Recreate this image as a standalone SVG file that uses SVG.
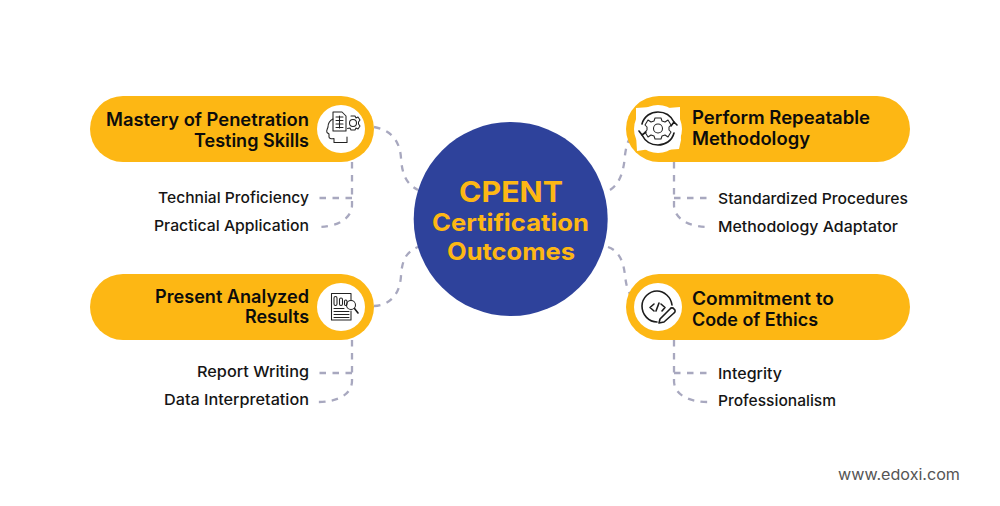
<svg xmlns="http://www.w3.org/2000/svg" width="1000" height="506" viewBox="0 0 1000 506">
<style>
.pill{fill:#fdb714}
.hole{fill:#fff}
.t{font-family:Inter,"Liberation Sans",sans-serif;font-size:18px;font-weight:600;fill:#0c0c0c}
.s{font-family:Inter,"Liberation Sans",sans-serif;font-size:15px;font-weight:450;fill:#151515}
.c{font-family:Inter,"Liberation Sans",sans-serif;font-weight:700;fill:#fdb714;text-anchor:middle}
.i{fill:none;stroke:#222;stroke-width:1.05;stroke-linecap:round;stroke-linejoin:round}
.i2{fill:none;stroke:#1c1c1c;stroke-width:1.6;stroke-linecap:round;stroke-linejoin:round}
.d{fill:none;stroke:#a8a8bf;stroke-width:2.3;stroke-dasharray:6.500 6.500}
</style>
<rect width="1000" height="506" fill="#fff"/>
<g id="connectors">
<path class="d" d="M374 127C392 130 400 142 401 158C402 174 406 184 418 190"/>
<path class="d" d="M374 306C392 305 400 292 401 276C402 260 406 252 418 247"/>
<path class="d" d="M610 190C620 184 624 170 625 155C626 148 627 143 630 138"/>
<path class="d" d="M608 247C620 251 624 264 625 276C626 283 627 289 630 294"/>
<path class="d" d="M352 162V205C352 218 338 227 318 227"/>
<path class="d" d="M352 198H318"/>
<path class="d" d="M352 340V381C352 394 338 402 318 402"/>
<path class="d" d="M352 373H318"/>
<path class="d" d="M674 162V205C674 218 688 227 708 227"/>
<path class="d" d="M674 198H708"/>
<path class="d" d="M674 340V381C674 394 688 402 708 402"/>
<path class="d" d="M674 373H708"/>
</g>
<g id="center">
<circle cx="510.700" cy="219" r="97" fill="#2e429b"/>
<text class="c" x="511" y="202" font-size="29" textLength="104" lengthAdjust="spacingAndGlyphs">CPENT</text>
<text class="c" x="510.500" y="231" font-size="24" textLength="157" lengthAdjust="spacingAndGlyphs">Certification</text>
<text class="c" x="511" y="260" font-size="24" textLength="128" lengthAdjust="spacingAndGlyphs">Outcomes</text>
</g>
<g id="node-mastery">
<rect class="pill" x="90" y="96" width="284" height="66" rx="33"/>
<circle class="hole" cx="341" cy="129" r="24"/>
<path class="i" d="M333 119C329 121 328 124 328 127C327 130 326 131 327 132.500L329 134V137C329 138.500 331 139 334 138.500V142.500H347V137"/>
<path class="i" d="M333 112H342L346 116V131H333Z"/>
<path class="i" d="M336 117H343M336 120.500H343M336 124H343M336 127.500H343M339.500 116V128"/>
<circle class="i" cx="353" cy="123" r="3.500"/>
<path class="i" d="M351 116H355L356 118L358 117L360 120L358.500 122V124L360 126L358 129L356 128L355 130H351L350 128L347.500 128.500"/>
<text class="t" x="309" y="126" text-anchor="end" textLength="203" lengthAdjust="spacingAndGlyphs">Mastery of Penetration</text>
<text class="t" x="309" y="147" text-anchor="end" textLength="115" lengthAdjust="spacingAndGlyphs">Testing Skills</text>
</g>
<g id="sub-mastery">
<text class="s" x="309" y="202.500" text-anchor="end" textLength="151" lengthAdjust="spacingAndGlyphs">Technial Proficiency</text>
<text class="s" x="309" y="231" text-anchor="end" textLength="155" lengthAdjust="spacingAndGlyphs">Practical Application</text>
</g>
<g id="node-perform">
<rect class="pill" x="626" y="96" width="284" height="66" rx="33"/>
<path class="hole" d="M636 108L650 107L668 108L680 107L680 125L681 140L679 149L665 150L650 149L637 151L636 135Z"/>
<circle class="hole" cx="658" cy="129" r="24"/>
<circle class="i" cx="658" cy="128.500" r="4.500"/>
<path class="i" d="M655 118H661L662 121L665 122L668 120L671 125L669 127V130L671 132L668 137L665 135L662 136L661 139H655L654 136L651 135L648 137L645 132L647 130V127L645 125L648 120L651 122L654 121Z"/>
<path class="i2" d="M642 124C644 116 651 112 658 112C665 112 671 116 674 122M674 133C672 141 665 145 658 145C651 145 645 141 642 135"/>
<path class="i2" d="M639 131L642 135L646 132M671 126L674 122L677 125"/>
<text class="t" x="692" y="124" textLength="178" lengthAdjust="spacingAndGlyphs">Perform Repeatable</text>
<text class="t" x="692" y="144.500" textLength="118" lengthAdjust="spacingAndGlyphs">Methodology</text>
</g>
<g id="sub-perform">
<text class="s" x="718" y="203.500" textLength="190" lengthAdjust="spacingAndGlyphs">Standardized Procedures</text>
<text class="s" x="718" y="232" textLength="180" lengthAdjust="spacingAndGlyphs">Methodology Adaptator</text>
</g>
<g id="node-present">
<rect class="pill" x="90" y="274" width="284" height="66" rx="33"/>
<circle class="hole" cx="341" cy="307" r="24"/>
<path class="i" d="M351 300V293.500H331.500V320H351V311"/>
<rect class="i" x="334" y="296.500" width="3" height="9" rx="1.500"/>
<rect class="i" x="339.500" y="298" width="3" height="7.500" rx="1.500"/>
<rect class="i" x="344.500" y="300" width="2.500" height="5.500" rx="1.200"/>
<path class="i" d="M334 308.500H344M334 311.500H349M334 314.500H349M334 317.500H349"/>
<circle class="i" cx="351" cy="305" r="4.500" fill="#fff"/>
<path class="i2" d="M354.500 308.500L358 313"/>
<text class="t" x="309" y="302.500" text-anchor="end" textLength="154" lengthAdjust="spacingAndGlyphs">Present Analyzed</text>
<text class="t" x="309" y="323" text-anchor="end" textLength="64" lengthAdjust="spacingAndGlyphs">Results</text>
</g>
<g id="sub-present">
<text class="s" x="309" y="377" text-anchor="end" textLength="112" lengthAdjust="spacingAndGlyphs">Report Writing</text>
<text class="s" x="309" y="405" text-anchor="end" textLength="145" lengthAdjust="spacingAndGlyphs">Data Interpretation</text>
</g>
<g id="node-commitment">
<rect class="pill" x="626" y="274" width="284" height="66" rx="33"/>
<circle class="hole" cx="658" cy="307" r="24"/>
<path class="i2" d="M672 305C671 297 664 291 657 291C649 291 642 298 642 306C642 315 649 322 657 322"/>
<path class="i2" d="M654 304L650 307.500L654 311M656 311L659 303M661 304L665 307.500L662 311"/>
<path class="i2" d="M660 319L670 309C671 307.500 673 307.500 674 309C675.500 310 675.500 312 674 313L664 322L659 323Z"/>
<text class="t" x="692" y="304.500" textLength="142" lengthAdjust="spacingAndGlyphs">Commitment to</text>
<text class="t" x="692" y="325.500" textLength="126" lengthAdjust="spacingAndGlyphs">Code of Ethics</text>
</g>
<g id="sub-commitment">
<text class="s" x="718" y="378.500" textLength="64" lengthAdjust="spacingAndGlyphs">Integrity</text>
<text class="s" x="718" y="406" textLength="118" lengthAdjust="spacingAndGlyphs">Professionalism</text>
</g>
<text x="838" y="480" font-family="Inter,'Liberation Sans',sans-serif" font-size="15" fill="#555" textLength="122" lengthAdjust="spacingAndGlyphs">www.edoxi.com</text>
</svg>
